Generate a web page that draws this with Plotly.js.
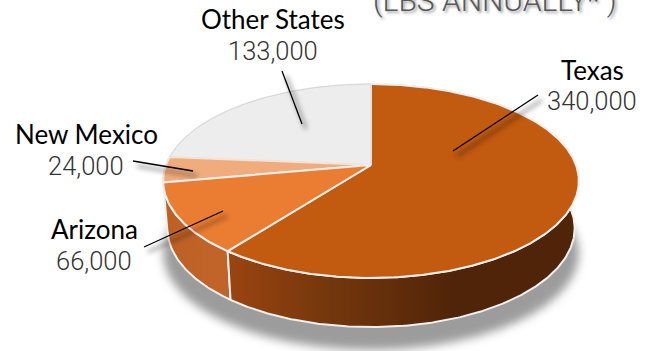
<!DOCTYPE html>
<html>
<head>
<meta charset="utf-8">
<script src="https://cdn.plot.ly/plotly-3.0.1.min.js"></script>
<style>html,body{margin:0;padding:0;background:#fff;overflow:hidden}</style>
</head>
<body>
<div id="chart" style="width:654px;height:351px"></div>
<script>
// Annual volume by state
const states = ["Texas", "Arizona", "New Mexico", "Other States"];
const pounds = [340000, 66000, 24000, 133000];
const topColors = ["#C25A10", "#EA7D32", "#F0AC7C", "#EDEDED"];
const edgeColors = ["#EFEFEF", "#EFEFEF", "#F3E3D6", "#D6D6D6"];
const wallScales = [
  [[0, "#9A4510"], [0.3, "#73360C"], [0.65, "#4F2408"], [1, "#4F2408"]],
  [[0, "#BE6024"], [1, "#C0652A"]],
  [[0, "#C58A5E"], [1, "#C58A5E"]],
  [[0, "#BDBDBD"], [1, "#BDBDBD"]]
];

// Tilted-disc projection: pixels per model unit, apex position, foreshortening, perspective
const WIDTH = 654, HEIGHT = 351;
const UNIT = 205, APEX_X = 371, APEX_Y = 165;
const TILT = 0.46, PERSPECTIVE = 0.165;

function project(theta, scale, drop, stretch) {
  const u = Math.sin(theta), v = -Math.cos(theta);
  const w = 1 - PERSPECTIVE * v;
  return [scale * u / w, -TILT * stretch * scale * v / w - drop / UNIT];
}
function arc(from, to, scale, drop, stretch) {
  const n = Math.max(2, Math.ceil((to - from) / 0.01));
  const xs = [], ys = [];
  for (let i = 0; i <= n; i++) {
    const p = project(from + (to - from) * i / n, scale, drop, stretch);
    xs.push(p[0]); ys.push(p[1]);
  }
  return [xs, ys];
}
const toX = px => (px - APEX_X) / UNIT;
const toY = py => (APEX_Y - py) / UNIT;

const total = pounds.reduce((a, b) => a + b, 0);
const spans = [];
pounds.reduce((acc, val) => {
  const next = acc + val / total * 2 * Math.PI;
  spans.push([acc, next]);
  return next;
}, 0);

const traces = [];
const base = {mode: "lines", fill: "toself", hoverinfo: "skip", showlegend: false};

// Soft cast shadow below the disc
const ring = arc(0, 2 * Math.PI, 1.0, 72, 1);
traces.push({...base, x: ring[0], y: ring[1], line: {width: 0}, fillcolor: "#9C9C9C"});

// Side walls, back slices first
[3, 2, 1, 0].forEach(i => {
  const [a, b] = spans[i];
  const top = arc(a, b, 1, 0, 1), low = arc(a, b, 0.98, 47, 1.04);
  const x = top[0].concat(low[0].slice().reverse());
  const y = top[1].concat(low[1].slice().reverse());
  traces.push({
    ...base, x: x.concat(x[0]), y: y.concat(y[0]),
    line: {color: "#F0F0F0", width: 2},
    fillgradient: {type: "horizontal", colorscale: wallScales[i]}
  });
});

// Top surfaces
[0, 3, 2, 1].forEach(i => {
  const [a, b] = spans[i];
  const rim = arc(a, b, 1, 0, 1);
  traces.push({
    ...base,
    x: [0].concat(rim[0], [0]),
    y: [0].concat(rim[1], [0]),
    line: {color: edgeColors[i], width: i === 3 ? 1 : 2},
    fillcolor: topColors[i]
  });
});

// Leader lines with their drop shadows
const leaders = [
  [[538, 95], [453, 151]],
  [[144, 247], [223, 211]],
  [[133, 161], [193, 171]],
  [[282, 71], [302, 124]]
];
const firstLeaderShadow = traces.length;
leaders.forEach(l => traces.push({
  mode: "lines", hoverinfo: "skip", showlegend: false,
  x: l.map(p => toX(p[0] + 4)), y: l.map(p => toY(p[1] + 5)),
  line: {color: "rgba(0,0,0,0.38)", width: 3}
}));
leaders.forEach(l => traces.push({
  mode: "lines", hoverinfo: "skip", showlegend: false,
  x: l.map(p => toX(p[0])), y: l.map(p => toY(p[1])),
  line: {color: "#000000", width: 1.3}
}));

// Label anchors: name line and value line
const labelX = [592, 94, 86, 273];
const nameY = [70, 229, 134, 19];
const valueY = [101, 261, 166, 51];
const annotations = [];
const NAME_FONT = {family: "Lato, 'Noto Sans', sans-serif", size: 26, color: "#000000"};
const VALUE_FONT = {family: "Roboto, sans-serif", size: 25.5, color: "#333333", weight: 300};
states.forEach((s, i) => {
  annotations.push({text: s, xref: "paper", yref: "paper", x: labelX[i] / WIDTH, y: 1 - nameY[i] / HEIGHT,
    xanchor: "center", yanchor: "middle", showarrow: false, font: NAME_FONT});
  annotations.push({text: pounds[i].toLocaleString("en-US"), xref: "paper", yref: "paper", x: labelX[i] / WIDTH,
    y: 1 - valueY[i] / HEIGHT, xanchor: "center", yanchor: "middle", showarrow: false, font: VALUE_FONT});
});
annotations.push({text: "(LBS ANNUALLY* )", xref: "paper", yref: "paper", x: 495 / WIDTH, y: 1,
  xanchor: "center", yanchor: "middle", showarrow: false,
  font: {family: "Roboto, sans-serif", size: 30, color: "#595959", weight: 300, shadow: "2px 2px 3px #999999"}});

const layout = {
  width: WIDTH, height: HEIGHT,
  margin: {l: 0, r: 0, t: 0, b: 0},
  paper_bgcolor: "#FFFFFF", plot_bgcolor: "#FFFFFF",
  showlegend: false,
  xaxis: {visible: false, fixedrange: true, range: [toX(0), toX(WIDTH)]},
  yaxis: {visible: false, fixedrange: true, range: [toY(HEIGHT), toY(0)]},
  annotations
};

Plotly.newPlot("chart", traces, layout, {displayModeBar: false, staticPlot: true}).then(() => {
  const groups = document.querySelectorAll(".scatterlayer .trace");
  groups[0].style.filter = "blur(5px)";
  for (let i = firstLeaderShadow; i < firstLeaderShadow + leaders.length; i++) {
    groups[i].style.filter = "blur(2.5px)";
  }
});
</script>
</body>
</html>
